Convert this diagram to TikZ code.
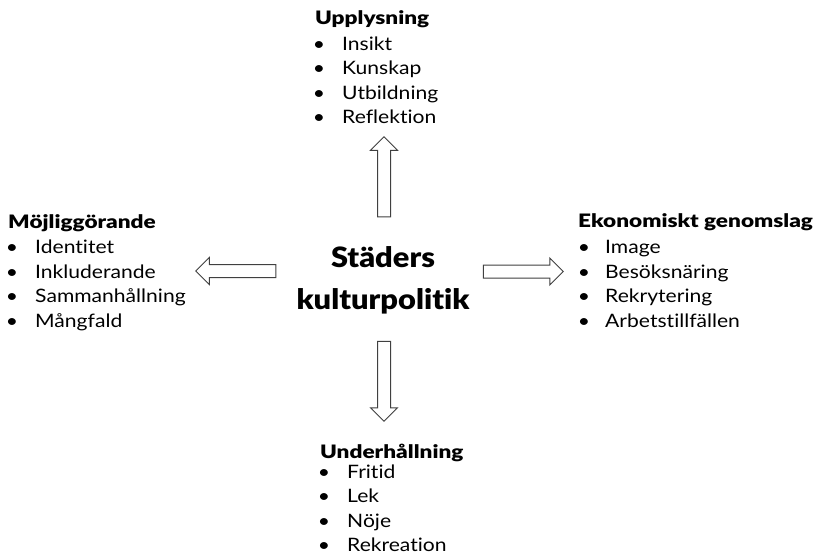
\documentclass[tikz,border=0pt]{standalone}
\usepackage{fontspec}
\setmainfont{Lato}[FakeStretch=1.14, Ligatures={NoCommon}, BoldFont={Lato Black}, BoldFeatures={FakeStretch=1.1}]
\newfontfamily\headfont{Lato Black}[FakeStretch=1.22]
\usetikzlibrary{shapes.arrows}
\begin{document}
\begin{tikzpicture}[x=1pt,y=-1pt,
  head/.style={anchor=base west, font=\fontsize{18.5}{20}\headfont, inner sep=0},
  itemtxt/.style={anchor=base west, font=\fontsize{18.5}{22}\selectfont, inner sep=0},
  bul/.style={anchor=base, font=\fontsize{18.5}{22}\selectfont, inner sep=0},
  title/.style={anchor=base, font=\fontsize{28}{32}\selectfont\bfseries, inner sep=0},
  blockarrow/.style={single arrow, draw=black!75, line width=1pt, fill=white,
    inner sep=6pt, minimum height=80pt, single arrow head extend=7pt,
    single arrow tip angle=90, single arrow head indent=0pt}]
\useasboundingbox (0,0) rectangle (827,558);

% centre
\node[title] (t1) at (383,267) {Städers};
\node[title] (t2) at (383,309) {kulturpolitik};

% arrows
\node[blockarrow, shape border rotate=90] (aup) at (384,180) {};
\node[blockarrow, shape border rotate=180] (aleft) at (239,271) {};
\node[blockarrow, shape border rotate=0] (aright) at (520,271.5) {};
\node[blockarrow, shape border rotate=270] (adown) at (384,378) {};

% top block
\node[head] (hu) at (315,24) {Upplysning};
\foreach \t [count=\i] in {Insikt,Kunskap,Utbildning,Reflektion}{
  \node[bul] (ub\i) at (319,{50+24.6*(\i-1)}) {•};
  \node[itemtxt] (ut\i) at (342,{50+24.6*(\i-1)}) {\t};
}

% left block
\node[head] (hl) at (8,228) {Möjliggörande};
\foreach \t [count=\i] in {Identitet,Inkluderande,Sammanhållning,Mångfald}{
  \node[bul] (lb\i) at (12,{253.5+24.6*(\i-1)}) {•};
  \node[itemtxt] (lt\i) at (35,{253.5+24.6*(\i-1)}) {\t};
}

% right block
\node[head] (hr) at (578,227) {Ekonomiskt genomslag};
\foreach \t [count=\i] in {Image,Besöksnäring,Rekrytering,Arbetstillfällen}{
  \node[bul] (rb\i) at (584,{253.5+24.6*(\i-1)}) {•};
  \node[itemtxt] (rt\i) at (605,{253.5+24.6*(\i-1)}) {\t};
}

% bottom block
\node[head] (hd) at (320,458) {Underhållning};
\foreach \t [count=\i] in {Fritid,Lek,Nöje,Rekreation}{
  \node[bul] (db\i) at (324,{478+24.6*(\i-1)}) {•};
  \node[itemtxt] (dt\i) at (347,{478+24.6*(\i-1)}) {\t};
}
\end{tikzpicture}
\end{document}
